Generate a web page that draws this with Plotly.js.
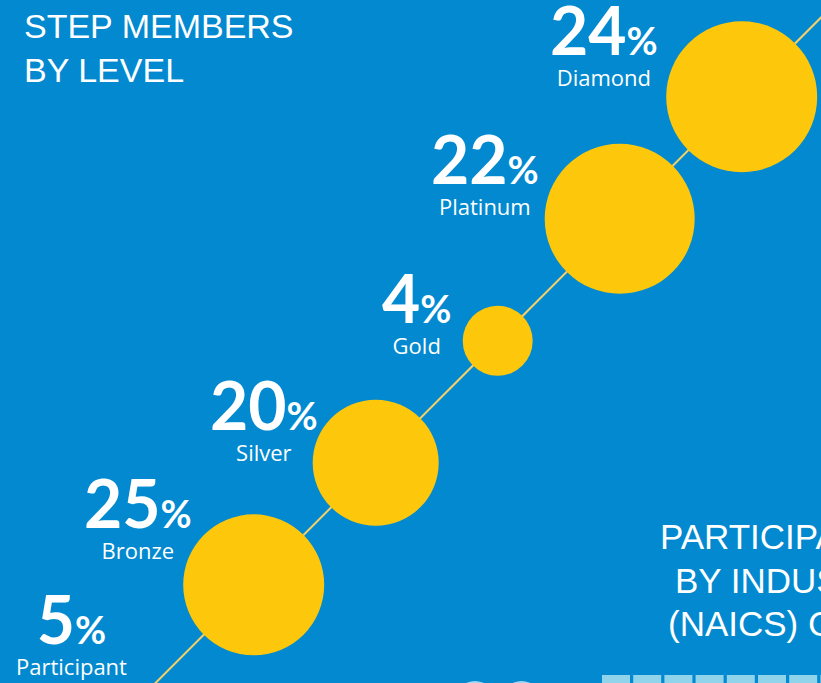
<!DOCTYPE html>
<html>
<head>
<meta charset="utf-8">
<script src="https://cdn.plot.ly/plotly-3.0.1.min.js"></script>
<style>
  html, body { margin: 0; padding: 0; background: #0289D0; overflow: hidden; }
  #chart { width: 821px; height: 683px; }
</style>
</head>
<body>
<div id="chart"></div>
<script>
// ---- data ----
const levels   = ["Participant", "Bronze", "Silver", "Gold", "Platinum", "Diamond"];
const percents = [5, 25, 20, 4, 22, 24];

// ---- presentation ----
const W = 821, H = 683;
const BG = "#0289D0", YELLOW = "#FDC70C", LINE = "#F3D06A", WHITE = "#FFFFFF";
const FONT = "Liberation Sans, Arial, sans-serif";
const NAME_FONT = "Open Sans, Liberation Sans, sans-serif";
const NUM_FONT = "Lato, Open Sans, sans-serif";
const markerDiameters = [40, 141, 126, 70, 150, 151];   // px
// label block offsets (px) from each circle centre: block centre x, level-name baseline y
const labelDX = [-60.5, -115.5, -112, -80.7, -134.7, -138];
const labelDY = [-30.8, -24.8, -1, 14.7, -3, -10];
const DESCENT = 6;

const pos = levels.map((_, i) => i);           // step position along the diagonal
const xRange = [-1.0795, 5.650];
const yRange = [0.1951, 5.7934];
const toPX = v => (v - xRange[0]) / (xRange[1] - xRange[0]);
const toPY = v => (v - yRange[0]) / (yRange[1] - yRange[0]);

const circles = {
  type: "scatter", mode: "markers",
  x: pos, y: pos,
  text: levels.map((l, i) => l + ": " + percents[i] + "%"),
  hoverinfo: "text",
  marker: { size: markerDiameters, color: YELLOW, opacity: 1, line: { width: 0 } },
  cliponaxis: true, showlegend: false
};

const annotations = [];
levels.forEach((lvl, i) => {
  annotations.push({
    xref: "paper", yref: "paper", x: toPX(pos[i]), y: toPY(pos[i]),
    xshift: labelDX[i], yshift: -(labelDY[i] + DESCENT),
    xanchor: "center", yanchor: "bottom", align: "center",
    showarrow: false, borderpad: 0,
    text: "<span style=\"font-family:" + NUM_FONT + ";font-size:66px;font-weight:bold\">" + percents[i] + "</span>" +
          "<span style=\"font-family:" + NUM_FONT + ";font-size:38px;font-weight:bold\">%</span>" +
          "<br><span style=\"font-size:22px\">" + lvl + "</span>",
    font: { family: NAME_FONT, size: 24, color: WHITE }
  });
});

// cropped neighbouring panel heading
const nextHeading = ["PARTICIPANTS", "BY INDUSTRY", "(NAICS) CODE"];
const nextLeft = [659, 674, 667];
const nextMid  = [536.5, 580, 623];
nextHeading.forEach((t, i) => {
  annotations.push({
    xref: "paper", yref: "paper", x: nextLeft[i] / W, y: 1 - nextMid[i] / H,
    xanchor: "left", yanchor: "middle", showarrow: false, borderpad: 0,
    text: t, font: { family: FONT, size: 35, color: WHITE }
  });
});

const shapes = [
  { type: "line", xref: "x", yref: "y", x0: -2, y0: -2, x1: 7, y1: 7,
    line: { color: LINE, width: 2 }, layer: "below" }
];
// cropped waffle squares of the neighbouring panel
for (let k = 0; k < 8; k++) {
  const left = 602 + 31.2 * k;
  shapes.push({ type: "rect", xref: "paper", yref: "paper",
    x0: left / W, x1: (left + 28) / W, y0: 1 - 675 / H, y1: -0.05,
    fillcolor: "#8FD4EA", line: { width: 0 }, layer: "above" });
}
// cropped icons at bottom
[475, 521.5].forEach(cx => {
  shapes.push({ type: "circle", xref: "paper", yref: "paper",
    x0: (cx - 20) / W, x1: (cx + 20) / W, y0: 1 - 721 / H, y1: 1 - 681 / H,
    fillcolor: "#9FD8EE", line: { width: 0 }, layer: "above" });
});

const layout = {
  width: W, height: H,
  margin: { l: 0, r: 0, t: 0, b: 0, pad: 0 },
  paper_bgcolor: BG, plot_bgcolor: BG,
  title: {
    text: "STEP MEMBERS<br>BY LEVEL",
    x: 24 / W, xanchor: "left", xref: "container",
    y: 1 - 38 / H, yanchor: "top", yref: "container",
    pad: { t: 0, b: 0, l: 0, r: 0 },
    font: { family: FONT, size: 34, color: WHITE }
  },
  xaxis: { range: xRange, visible: false, fixedrange: true },
  yaxis: { range: yRange, visible: false, fixedrange: true },
  annotations: annotations,
  shapes: shapes,
  showlegend: false
};

Plotly.newPlot("chart", [circles], layout, { displayModeBar: false, staticPlot: true });
</script>
</body>
</html>
